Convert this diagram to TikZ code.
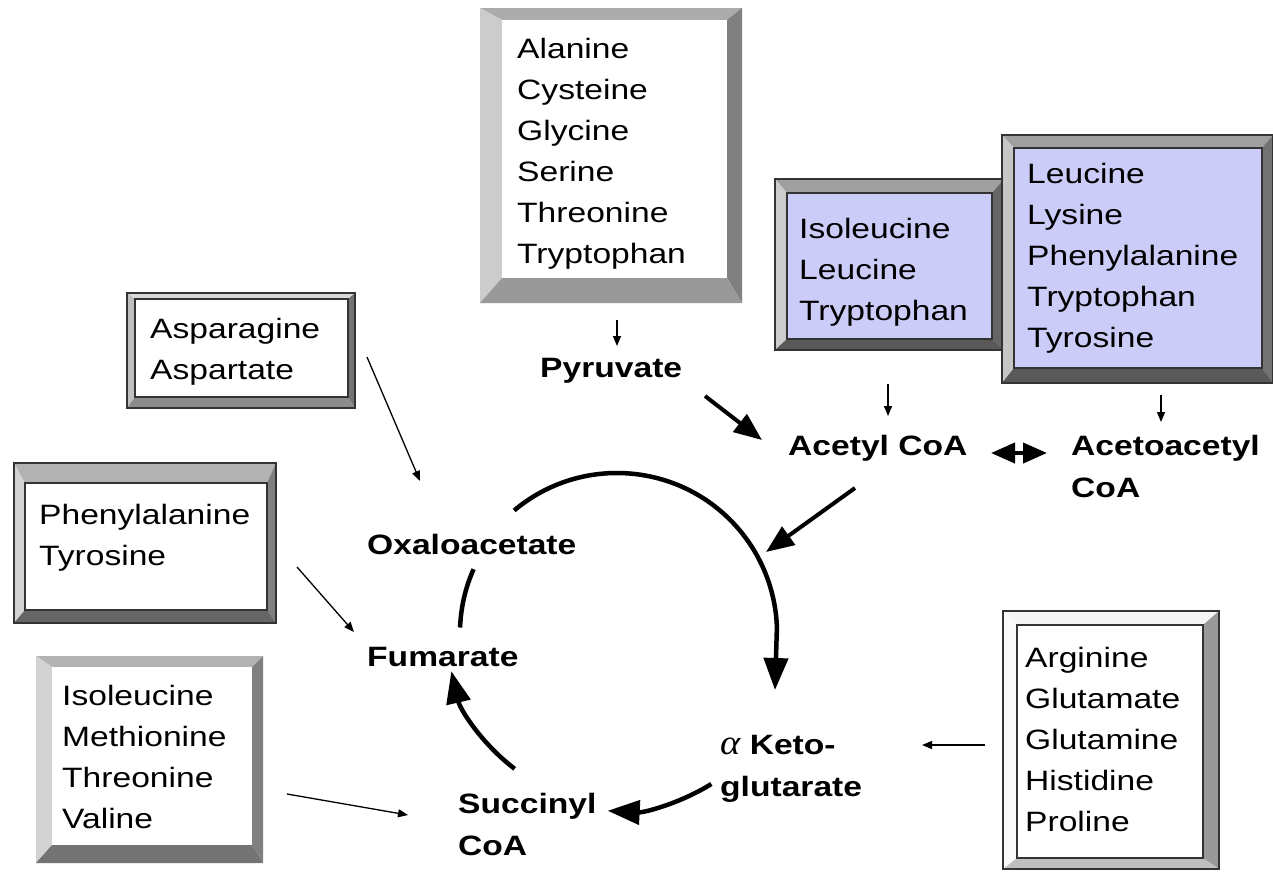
\documentclass[tikz,border=0pt]{standalone}
\usepackage{fontspec}
\setmainfont{Liberation Sans}[FakeStretch=1.2]
\newfontfamily\greekfont{Liberation Serif}[FakeStretch=1.1]
\usetikzlibrary{arrows.meta,calc}
\definecolor{lav}{RGB}{204,204,248}
\newcommand\bevelbox[9]{%
  \coordinate (oNW) at #1; \coordinate (oSE) at #2;
  \coordinate (iNW) at #3; \coordinate (iSE) at #4;
  \fill[#6] (oNW) -- (oSE|-oNW) -- (iSE|-iNW) -- (iNW) -- cycle;
  \fill[#7] (oNW) -- (iNW) -- (iNW|-iSE) -- (oNW|-oSE) -- cycle;
  \fill[#8] (oSE|-oNW) -- (oSE) -- (iSE) -- (iSE|-iNW) -- cycle;
  \fill[#9] (oNW|-oSE) -- (oSE) -- (iSE) -- (iNW|-iSE) -- cycle;
  \path[#5] (iNW) rectangle (iSE);
  \path[#5, fill=none] (oNW) rectangle (oSE);
}
\tikzset{
  list/.style={anchor=north west, inner sep=0pt, align=left,
    font=\fontsize{28}{41}\selectfont},
  lbl/.style={anchor=base west, inner sep=0pt,
    font=\fontsize{28}{41}\selectfont\bfseries},
  lbls/.style={anchor=north west, inner sep=0pt, align=left,
    font=\fontsize{28}{42}\selectfont\bfseries},
  thinarrow/.style={line width=1.3pt, -{Triangle[length=10pt,width=8pt]}},
  thickarrow/.style={line width=4pt, -{Triangle[length=28pt,width=22pt]}},
  cyc/.style={line width=4.5pt},
  cycarrow/.style={line width=4.5pt, -{Triangle[length=32pt,width=24pt]}},
}
\begin{document}
\begin{tikzpicture}[x=1pt,y=-1pt]
\useasboundingbox[fill=white] (0,0) rectangle (1273,871);

% bevel boxes
\bevelbox{(480,8)}{(742,303)}{(502,20)}{(727,278)}{fill=white}{gray!65}{gray!40}{gray!100}{gray!80}
\bevelbox{(775,179)}{(1004,350)}{(787,193)}{(992,339)}{fill=lav, draw=black!80, line width=1.3pt}{gray!75}{gray!40}{black!60}{black!65}
\bevelbox{(1002,135)}{(1273,383)}{(1014,148)}{(1262,368)}{fill=lav, draw=black!80, line width=1.3pt}{gray!75}{gray!45}{black!55}{black!65}
\bevelbox{(127,293)}{(355,408)}{(135,299)}{(348,397)}{fill=white, draw=black!80, line width=1.2pt}{gray!30}{gray!50}{black!55}{gray!90}
\bevelbox{(14,463)}{(276,623)}{(25,483)}{(267,610)}{fill=white, draw=black!80, line width=1.2pt}{gray!60}{gray!35}{gray!100}{black!60}
\bevelbox{(36,656)}{(263,863)}{(52,667)}{(252,845)}{fill=white}{gray!60}{gray!35}{gray!100}{black!55}
\bevelbox{(1003,611)}{(1219,869)}{(1017,625)}{(1203,858)}{fill=white, draw=black!80, line width=1.2pt}{gray!8}{gray!5}{gray!80}{gray!50}

% box texts
\node[list] (ala) at (517,38) {Alanine\\Cysteine\\Glycine\\Serine\\Threonine\\Tryptophan};
\node[list] (ile1) at (799,218) {Isoleucine\\Leucine\\Tryptophan};
\node[list] (leu) at (1027,163) {Leucine\\Lysine\\Phenylalanine\\Tryptophan\\Tyrosine};
\node[list] (asn) at (150,318) {Asparagine\\Aspartate};
\node[list] (phe) at (39,504) {Phenylalanine\\Tyrosine};
\node[list] (ile2) at (62,685) {Isoleucine\\Methionine\\Threonine\\Valine};
\node[list] (arg) at (1025,647) {Arginine\\Glutamate\\Glutamine\\Histidine\\Proline};

% metabolite labels
\node[lbl] (pyr) at (540,377) {Pyruvate};
\node[lbl] (acoa) at (788,455) {Acetyl CoA};
\node[lbls] (aacoa) at (1071,435) {Acetoacetyl\\CoA};
\node[lbl] (oxa) at (367,554) {Oxaloacetate};
\node[lbl] (fum) at (367,666) {Fumarate};
\node[lbls] (akg) at (720,735) {{\mdseries\greekfont\itshape\fontsize{35}{42}\selectfont α} Keto-\\glutarate};
\node[lbls] (suc) at (458,793) {Succinyl\\CoA};

% connector end points
\coordinate (p1) at (617,320); \coordinate (p2) at (617,346);
\coordinate (q1) at (888,384); \coordinate (q2) at (888,416);
\coordinate (r1) at (1161,395); \coordinate (r2) at (1161,422);
\coordinate (s1) at (367,357); \coordinate (s2) at (420,481);
\coordinate (t1) at (297,567); \coordinate (t2) at (354,632);
\coordinate (u1) at (287,794); \coordinate (u2) at (408,815);
\coordinate (v1) at (985,745); \coordinate (v2) at (922,745);
\coordinate (w1) at (705,396); \coordinate (w2) at (762,440);
\coordinate (x1) at (855,488); \coordinate (x2) at (766,552);
\coordinate (y1) at (991,453); \coordinate (y2) at (1047,453);

\draw[thinarrow] (p1) -- (p2);
\draw[thinarrow] (q1) -- (q2);
\draw[thinarrow] (r1) -- (r2);
\draw[thinarrow] (s1) -- (s2);
\draw[thinarrow] (t1) -- (t2);
\draw[thinarrow] (u1) -- (u2);
\draw[thinarrow] (v1) -- (v2);
\draw[thickarrow] (w1) -- (w2);
\draw[thickarrow] (x1) -- (x2);
\draw[line width=4pt, {Triangle[length=24pt,width=20pt]}-{Triangle[length=24pt,width=20pt]}] (y1) -- (y2);

% citric acid cycle arcs
\coordinate (C) at (617,633);
\coordinate (c1) at ($(C)+(230:160)$);
\coordinate (c1e) at (775,690);
\coordinate (c2) at ($(C)+(204:157)$);
\coordinate (c3) at ($(C)+(127:170)$);
\coordinate (c4) at ($(C)+(58:178)$);
\draw[cycarrow] (c1) arc[start angle=230, end angle=358, radius=160] -- (c1e);
\draw[cyc] (c2) arc[start angle=204, end angle=182, radius=157];
\draw[cycarrow] (c3) arc[start angle=127, end angle=167, radius=170];
\draw[cycarrow] (c4) arc[start angle=58, end angle=93, radius=178];
\end{tikzpicture}
\end{document}
